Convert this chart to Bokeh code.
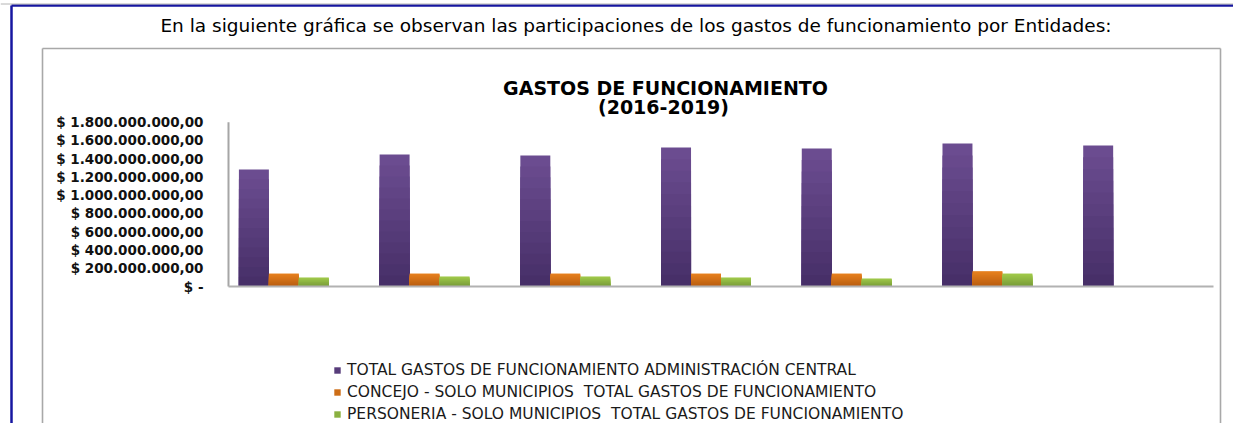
from bokeh.plotting import figure
from bokeh.models import Range1d, Legend, LegendItem
from bokeh.core.properties import value
from bokeh.embed import file_html
from bokeh.resources import INLINE

# ---------------- data ----------------
groups = ["1", "2", "3", "4", "5", "6", "7"]
series_names = [
    "TOTAL GASTOS DE FUNCIONAMIENTO ADMINISTRACIÓN CENTRAL",
    "CONCEJO - SOLO MUNICIPIOS  TOTAL GASTOS DE FUNCIONAMIENTO",
    "PERSONERIA - SOLO MUNICIPIOS  TOTAL GASTOS DE FUNCIONAMIENTO",
]
total_admin = [1.281e9, 1.446e9, 1.435e9, 1.522e9, 1.511e9, 1.566e9, 1.544e9]
concejo = [0.142e9, 0.142e9, 0.142e9, 0.142e9, 0.142e9, 0.168e9, 0.0]
personeria = [0.099e9, 0.110e9, 0.110e9, 0.099e9, 0.088e9, 0.142e9, 0.0]
y_ticks = [0, 2e8, 4e8, 6e8, 8e8, 1e9, 1.2e9, 1.4e9, 1.6e9, 1.8e9]
y_tick_labels = ["$ -", "$ 200.000.000,00", "$ 400.000.000,00", "$ 600.000.000,00",
                 "$ 800.000.000,00", "$ 1.000.000.000,00", "$ 1.200.000.000,00",
                 "$ 1.400.000.000,00", "$ 1.600.000.000,00", "$ 1.800.000.000,00"]
header = "En la siguiente gráfica se observan las participaciones de los gastos de funcionamiento por Entidades:"
title1 = "GASTOS DE FUNCIONAMIENTO"
title2 = "(2016-2019)"

# colours: (top, bottom) of each series' vertical gradient
grad = [("#6b4c90", "#472f68"), ("#e6801e", "#b95d10"), ("#a0c94a", "#789c38")]

# ---------------- layout (pixels) ----------------
W, H = 1233, 423
PL, PR = 228.0, 1213.0        # plot area left / right
PT, PB = 121.7, 286.0         # y of top tick / zero
YMAX = 1.8e9

ux = (PR - PL) / len(groups)
uy = (PB - PT) / YMAX
x_range = Range1d(-PL / ux, len(groups) + (W - PR) / ux)
y_range = Range1d(-(H - PB) / uy, YMAX + PT / uy)

p = figure(width=W, height=H, output_backend="svg", toolbar_location=None,
           x_range=x_range, y_range=y_range, x_axis_type=None, y_axis_type=None,
           min_border=0)
p.min_border_left = p.min_border_right = p.min_border_top = p.min_border_bottom = 0
p.outline_line_color = None
p.grid.visible = False
p.background_fill_color = "white"
p.border_fill_color = "white"
p.extra_x_ranges = {"px": Range1d(0, W)}
p.extra_y_ranges = {"px": Range1d(H, 0)}

# ---------------- frames ----------------
p.segment(x0=[11, 11], y0=[5, 5], x1=[11, W], y1=[H, 5], line_color="#1616a0",
          line_width=2.5, x_range_name="px", y_range_name="px")
p.segment(x0=[0], y0=[3.5], x1=[W], y1=[3.5], line_color="#b4b4b4",
          line_width=1, x_range_name="px", y_range_name="px")
p.segment(x0=[42, 42, 1220], y0=[48, 48, 48], x1=[42, 1220, 1220], y1=[H, 48, H],
          line_color="#a8a8a8", line_width=1.6, x_range_name="px", y_range_name="px")

# ---------------- bars (vertical gradient) ----------------
bw = 0.213
offsets = [-1.5 * bw, -0.5 * bw, 0.5 * bw]
series = [total_admin, concejo, personeria]

def mix(c1, c2, t):
    a = [int(c1[i:i + 2], 16) for i in (1, 3, 5)]
    b = [int(c2[i:i + 2], 16) for i in (1, 3, 5)]
    return "#%02x%02x%02x" % tuple(round(a[k] + (b[k] - a[k]) * t) for k in range(3))

NB = 12
legend_items = []
for s, vals in enumerate(series):
    xs = [i + 0.5 + offsets[s] for i in range(len(groups))]
    rep = None
    for k in range(NB):
        frac = 1 - k / NB
        tops = [v * frac for v in vals]
        col = mix(grad[s][0], grad[s][1], k / (NB - 1))
        r = p.vbar(x=xs, top=tops, bottom=0, width=bw, fill_color=col, line_color=None)
        if k == NB // 2:
            rep = r
    legend_items.append(LegendItem(label=series_names[s], renderers=[rep]))

# ---------------- axes ----------------
p.segment(x0=[PL], y0=[0], x1=[PL], y1=[YMAX], line_color="#a6a6a6", line_width=2,
          x_range_name="px")
p.segment(x0=[0], y0=[0], x1=[len(groups)], y1=[0], line_color="#b2b2b2", line_width=2)
p.text(x=[203] * len(y_ticks), y=y_ticks, text=y_tick_labels, x_range_name="px",
       text_align="right", text_baseline="middle", text_font=value("DejaVu Sans"),
       text_font_style="bold", text_font_size="13.5px", text_color="#111111")

# ---------------- titles ----------------
p.text(x=[635.5], y=[24.5], text=[header], x_range_name="px", y_range_name="px",
       text_align="center", text_baseline="middle", text_font=value("DejaVu Sans"),
       text_font_size="18.5px", text_color="#000000")
p.text(x=[665, 663], y=[87, 106], text=[title1, title2], x_range_name="px",
       y_range_name="px", text_align="center", text_baseline="middle",
       text_font=value("DejaVu Sans"), text_font_style="bold",
       text_font_size="19px", text_color="#000000")

# ---------------- legend ----------------
legend = Legend(items=legend_items, location=(333, 0), orientation="vertical",
                glyph_width=8, glyph_height=8, label_height=15, spacing=4,
                label_standoff=6, padding=0, margin=0, border_line_color=None,
                background_fill_alpha=0,
                label_text_font="DejaVu Sans", label_text_font_size="15.5px",
                label_text_color="#1a1a1a")
p.add_layout(legend, "center")

open("out.html", "w").write(file_html(p, INLINE))
